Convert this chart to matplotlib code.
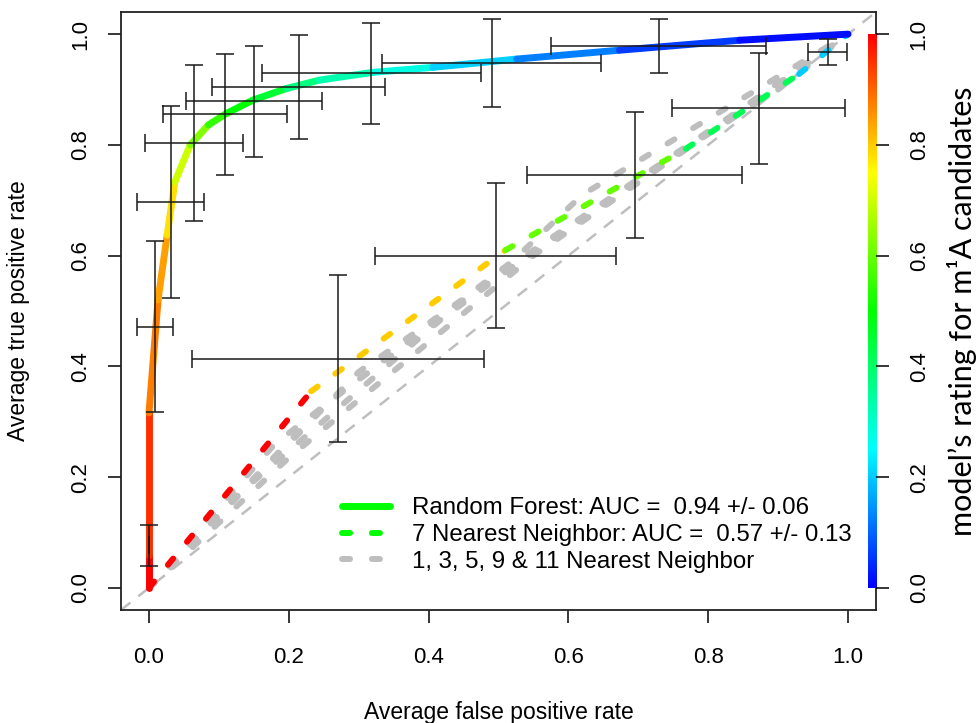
import matplotlib
matplotlib.use('Agg')
import matplotlib.pyplot as plt
import numpy as np
from matplotlib.collections import LineCollection
from matplotlib.colors import hsv_to_rgb, ListedColormap
from matplotlib.lines import Line2D

plt.rcParams['font.family'] = ['Liberation Sans', 'DejaVu Sans']

# Random Forest: averaged ROC curve, one cutoff value per segment
rf_fpr = [0.0, 0.0, 0.0, 0.013, 0.026, 0.037, 0.059, 0.085, 0.111, 0.149,
          0.197, 0.244, 0.32, 0.406, 0.526, 0.673, 0.845, 1.0]
rf_tpr = [0.0, 0.06, 0.316, 0.52, 0.637, 0.733, 0.80, 0.836, 0.857, 0.881,
          0.902, 0.917, 0.931, 0.94, 0.955, 0.971, 0.989, 1.0]
rf_cut = [1.0, 0.95, 0.875, 0.84, 0.78, 0.70, 0.625, 0.55, 0.5, 0.45,
          0.375, 0.33, 0.28, 0.205, 0.125, 0.06, 0.015]

# Random Forest error bars (mean +/- std error)
rf_err_x = [0.0, 0.009, 0.031, 0.064, 0.109, 0.150, 0.214, 0.318, 0.490, 0.729]
rf_err_y = [0.077, 0.472, 0.697, 0.804, 0.855, 0.879, 0.904, 0.929, 0.948, 0.979]
rf_err_dx = [0.0, 0.026, 0.048, 0.070, 0.089, 0.097, 0.124, 0.157, 0.157, 0.154]
rf_err_dy = [0.037, 0.154, 0.173, 0.141, 0.109, 0.100, 0.094, 0.091, 0.080, 0.049]

# 7 nearest neighbor: averaged ROC curve
knn7_fpr = [0.0, 0.232, 0.51, 0.768, 0.93, 1.0]
knn7_tpr = [0.0, 0.355, 0.61, 0.793, 0.928, 1.0]
knn7_cut = [1.0, 0.80, 0.60, 0.42, 0.20]

knn7_err_x = [0.270, 0.496, 0.695, 0.872, 0.971]
knn7_err_y = [0.414, 0.600, 0.745, 0.866, 0.968]
knn7_err_dx = [0.209, 0.172, 0.154, 0.124, 0.028]
knn7_err_dy = [0.151, 0.131, 0.114, 0.100, 0.024]

# 1, 3, 5, 9 & 11 nearest neighbor curves
knn_other_fpr = [[0.0, 0.18, 0.52, 0.62, 0.87, 1.0],
                 [0.0, 0.25, 0.51, 0.75, 0.90, 1.0],
                 [0.0, 0.12, 0.45, 0.72, 1.0],
                 [0.0, 0.30, 0.55, 0.83, 1.0],
                 [0.0, 0.20, 0.55, 0.80, 1.0]]
knn_other_tpr = [[0.0, 0.26, 0.59, 0.71, 0.90, 1.0],
                 [0.0, 0.33, 0.57, 0.78, 0.90, 1.0],
                 [0.0, 0.16, 0.52, 0.75, 1.0],
                 [0.0, 0.39, 0.61, 0.85, 1.0],
                 [0.0, 0.235, 0.60, 0.82, 1.0]]

diag = [0, 1]
ticks = [0.0, 0.2, 0.4, 0.6, 0.8, 1.0]
legend_labels = ['Random Forest: AUC =  0.94 +/- 0.06',
                 '7 Nearest Neighbor: AUC =  0.57 +/- 0.13',
                 '1, 3, 5, 9 & 11 Nearest Neighbor']

# rainbow like R's rev(rainbow(256, start=0, end=4/6))
v = np.linspace(0, 1, 256)
cmap = ListedColormap(hsv_to_rgb(np.column_stack([(1 - v) * 2 / 3, np.ones(256), np.ones(256)])))
norm = plt.Normalize(0, 1)

fig = plt.figure(figsize=(9.76, 7.23), dpi=100)
ax = fig.add_axes([121 / 976, 1 - 610 / 723, 755 / 976, 598 / 723])
ax.set_xlim(-0.04, 1.04)
ax.set_ylim(-0.04, 1.04)

gray = '#BEBEBE'
dash = (1.35, 3.65)

# chance line
ax.axline((diag[0], diag[0]), (diag[1], diag[1]), color=gray, lw=1.8,
          dashes=(4.8, 4.0), zorder=1)

# other kNN curves
for fx, fy in zip(knn_other_fpr, knn_other_tpr):
    ax.plot(fx, fy, color=gray, lw=4.3, dashes=dash, dash_capstyle='round', zorder=2)

# 7NN colored dashed segments
pts = np.column_stack([knn7_fpr, knn7_tpr])
segs = np.stack([pts[:-1], pts[1:]], axis=1)
lc = LineCollection(segs, colors=cmap(norm(knn7_cut)), linewidths=4.3,
                    linestyles=[(0, dash)], zorder=3)
lc.set_capstyle('round')
ax.add_collection(lc)

# RF colored solid segments
pts = np.column_stack([rf_fpr, rf_tpr])
segs = np.stack([pts[:-1], pts[1:]], axis=1)
lc = LineCollection(segs, colors=cmap(norm(rf_cut)), linewidths=5, zorder=4)
lc.set_capstyle('round')
ax.add_collection(lc)

# error bars
for ex, ey, edx, edy in [(rf_err_x, rf_err_y, rf_err_dx, rf_err_dy),
                         (knn7_err_x, knn7_err_y, knn7_err_dx, knn7_err_dy)]:
    ax.errorbar(ex, ey, xerr=edx, yerr=edy, fmt='none', ecolor='#1a1a1a',
                elinewidth=1.1, capsize=6.8, capthick=1.1, zorder=5)

# color key strip on the right edge
grad = np.linspace(0, 1, 256).reshape(-1, 1)
ax.imshow(grad, cmap=cmap, norm=norm, origin='lower', aspect='auto',
          extent=[1.028, 1.04, 0, 1], zorder=6)
ax.set_xlim(-0.04, 1.04)
ax.set_ylim(-0.04, 1.04)

for s in ax.spines.values():
    s.set_linewidth(1.3)
    s.set_color('#222222')

ax.set_xticks(ticks)
ax.set_yticks(ticks)
ax.set_xticklabels([f'{t:.1f}' for t in ticks])
ax.set_yticklabels([f'{t:.1f}' for t in ticks], rotation=90, va='center')
ax.tick_params(axis='x', length=9.5, width=1.1, labelsize=16, pad=17)
ax.tick_params(axis='y', length=9.5, width=1.1, labelsize=16, pad=12)

ax2 = ax.twinx()
ax2.set_ylim(-0.04, 1.04)
ax2.set_yticks(ticks)
ax2.set_yticklabels([f'{t:.1f}' for t in ticks], rotation=90, va='center')
ax2.tick_params(axis='y', length=9.5, width=1.1, labelsize=16, pad=14)
for s in ax2.spines.values():
    s.set_visible(False)

ax.set_xlabel('Average false positive rate', fontsize=16.5)
ax.xaxis.set_label_coords(0.5, -0.1706)
ax.xaxis.label.set_va('center')
ax.set_ylabel('Average true positive rate', fontsize=16.5)
ax.yaxis.set_label_coords(-0.1364, 0.5)
ax.yaxis.label.set_va('center')
ax2.set_ylabel('model\u2019s rating for m\u00b9A candidates', fontsize=22,
               family=['Lato', 'DejaVu Sans'], rotation=90)
ax2.yaxis.set_label_coords((962 - 121) / 755, 0.5)
ax2.yaxis.label.set_va('center')

handles = [Line2D([], [], color='#00FF00', lw=5, solid_capstyle='round'),
           Line2D([], [], color='#00FF00', lw=4.3, dashes=dash, dash_capstyle='round'),
           Line2D([], [], color=gray, lw=4.3, dashes=dash, dash_capstyle='round')]
fig.legend(handles, legend_labels, loc='center left',
           bbox_to_anchor=(342 / 976, 1 - 535 / 723), frameon=False,
           fontsize=17.3, handlelength=2.0, handletextpad=0.9,
           labelspacing=0.2, borderpad=0, borderaxespad=0)

fig.savefig('out.png', dpi=100)
